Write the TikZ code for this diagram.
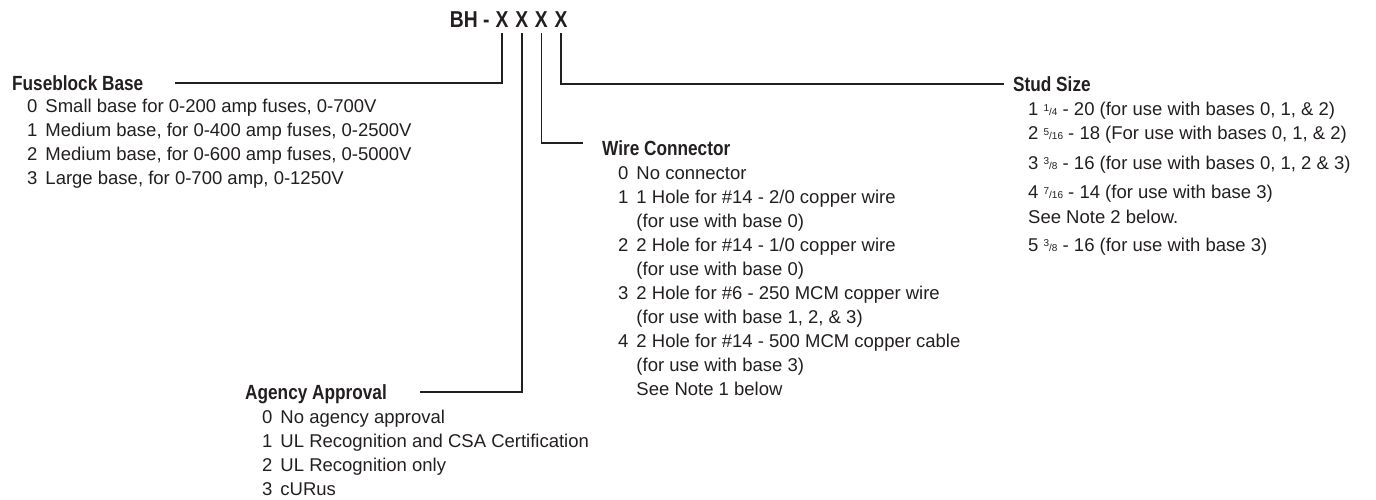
\documentclass[tikz,border=0pt]{standalone}
\usepackage{fontspec}
\setmainfont{Liberation Sans}
\newfontfamily\condfont[FakeStretch=0.84]{Liberation Sans}
\usetikzlibrary{positioning}
\definecolor{ink}{HTML}{231F20}
\tikzset{
  code/.style={font=\condfont\fontsize{23}{23}\selectfont\bfseries, inner sep=0pt, anchor=base},
  head/.style={font=\condfont\fontsize{20.5}{20.5}\selectfont\bfseries, inner sep=0pt,
    text height=14.7pt, text depth=0pt, anchor=base west},
  items/.style={font=\fontsize{18.5}{24}\selectfont, inner sep=0pt, anchor=base west},
  lead/.style={line width=1.8pt}
}
\newcommand\frc[2]{{\fontsize{10}{10}\selectfont\raisebox{4.5pt}{#1}/#2}}

\begin{document}
\begin{tikzpicture}[x=1pt, y=-1pt, color=ink]

  \newcommand\Dx{19.7}
  \newcommand\Ly{24}

  \useasboundingbox (0,0) rectangle (1376,500);

  % part number
  \node[code] (x1) at (502+0*\Dx, 28) {X};
  \node[code] (x2) at (502+1*\Dx, 28) {X};
  \node[code] (x3) at (502+2*\Dx, 28) {X};
  \node[code] (x4) at (502+3*\Dx, 28) {X};
  \node[code, anchor=base east, xshift=-5.5pt] (bh) at (x1.base west) {BH -};

  % headings
  \node[head] (fbh) at (12, 90.3) {Fuseblock Base};
  \node[head] (wch) at (602, 155.5) {Wire Connector};
  \node[head] (ssh) at (1013, 91.3) {Stud Size};
  \node[head] (agh) at (245, 399.4) {Agency Approval};

  % option lists
  \node[items] (fbl) at ([xshift=15pt, yshift=-22pt]fbh.base west) {%
    \begin{tabular}[t]{@{}l@{\hspace{8pt}}l@{}}
    0 & Small base for 0-200 amp fuses, 0-700V\\
    1 & Medium base, for 0-400 amp fuses, 0-2500V\\
    2 & Medium base, for 0-600 amp fuses, 0-5000V\\
    3 & Large base, for 0-700 amp, 0-1250V
    \end{tabular}};

  \node[items] (wcl) at ([xshift=16pt, yshift=-23.5pt]wch.base west) {%
    \begin{tabular}[t]{@{}l@{\hspace{8pt}}l@{}}
    0 & No connector\\
    1 & 1 Hole for \#14 - 2/0 copper wire\\
      & (for use with base 0)\\
    2 & 2 Hole for \#14 - 1/0 copper wire\\
      & (for use with base 0)\\
    3 & 2 Hole for \#6 - 250 MCM copper wire\\
      & (for use with base 1, 2, \& 3)\\
    4 & 2 Hole for \#14 - 500 MCM copper cable\\
      & (for use with base 3)\\
      & See Note 1 below
    \end{tabular}};

  \node[items] (ssl) at ([xshift=15pt, yshift=-24.5pt]ssh.base west) {%
    \begin{tabular}[t]{@{}l@{}}
    1 \frc{1}{4} - 20 (for use with bases 0, 1, \& 2)\\
    2 \frc{5}{16} - 18 (For use with bases 0, 1, \& 2)\\[5.5pt]
    3 \frc{3}{8} - 16 (for use with bases 0, 1, 2 \& 3)\\[5.5pt]
    4 \frc{7}{16} - 14 (for use with base 3)\\[0.5pt]
    See Note 2 below.\\[4pt]
    5 \frc{3}{8} - 16 (for use with base 3)
    \end{tabular}};

  \node[items] (agl) at ([xshift=17pt, yshift=-24.2pt]agh.base west) {%
    \begin{tabular}[t]{@{}l@{\hspace{8pt}}l@{}}
    0 & No agency approval\\
    1 & UL Recognition and CSA Certification\\
    2 & UL Recognition only\\
    3 & cURus
    \end{tabular}};

  % leaders
  \draw[lead] ([yshift=-5pt]x1.south) |- ([xshift=31pt]fbh.east);
  \draw[lead] ([yshift=-5pt]x2.south) |- ([xshift=33pt]agh.east);
  \draw[lead] ([yshift=-5pt]x3.south) |- ([shift={(-19pt,5pt)}]wch.west);
  \draw[lead] ([yshift=-5pt]x4.south) |- ([xshift=-9pt]ssh.west);

\end{tikzpicture}
\end{document}
